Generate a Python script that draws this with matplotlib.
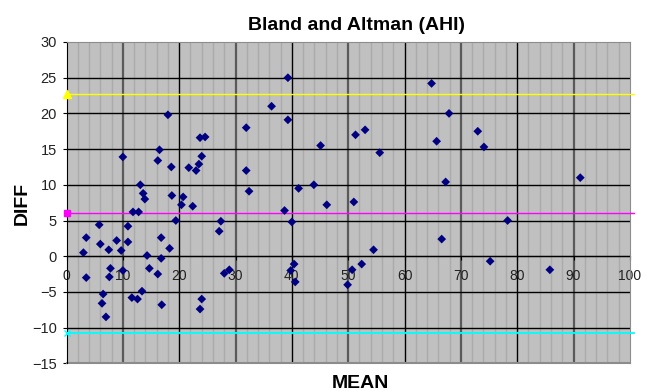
# Bland and Altman plot (AHI)

# ============================================
# region 1. Libraries
import matplotlib
matplotlib.use('Agg')
import matplotlib.pyplot as plt
# endregion


# ============================================
# region 2. Data
mean_vals = [3.0, 3.5, 3.5, 5.8, 6.0, 6.5, 6.3, 7.0, 7.5, 7.8,
             7.6, 8.9, 9.7, 10.0, 10.9, 10.9, 11.6, 12.6, 11.8, 12.8,
             13.4, 13.1, 13.6, 13.9, 14.3, 14.7, 16.2, 16.8, 16.8, 16.9,
             18.3, 18.7, 19.4, 20.4, 20.7, 22.4, 23.7, 24.0, 27.1, 27.4,
             28.0, 28.9, 32.4, 38.7, 40.0, 39.8, 40.4, 40.6, 46.2, 10.0,
             18.0, 16.5, 16.2, 18.6, 21.7, 23.0, 23.5, 24.0, 23.7, 24.6,
             31.9, 31.9, 36.4, 39.3, 39.3, 45.1, 41.2, 43.9, 64.8, 67.9,
             51.3, 53.0, 55.6, 65.7, 73.0, 74.1, 67.3, 91.2, 51.0, 78.3,
             66.6, 54.5, 52.4, 50.7, 49.9, 75.2, 85.8]
diff_vals = [0.5, 2.6, -3.0, 4.4, 1.7, -5.3, -6.6, -8.5, 0.9, -1.7,
             -2.9, 2.2, 0.8, -2.0, 4.2, 2.0, -5.8, -6.0, 6.2, 6.2,
             -4.9, 10.0, 8.8, 8.0, 0.1, -1.7, -2.5, 2.6, -0.3, -6.8,
             1.1, 8.5, 5.0, 7.2, 8.3, 7.0, -7.4, -6.0, 3.5, 4.9,
             -2.4, -1.9, 9.1, 6.4, 4.8, -2.0, -1.1, -3.6, 7.2, 13.9,
             19.8, 14.9, 13.4, 12.5, 12.4, 12.0, 12.9, 14.0, 16.6, 16.7,
             18.0, 12.0, 21.0, 25.0, 19.1, 15.5, 9.5, 10.0, 24.2, 20.0,
             17.0, 17.7, 14.5, 16.1, 17.5, 15.3, 10.4, 11.0, 7.6, 5.0,
             2.4, 0.9, -1.1, -1.9, -4.0, -0.7, -1.9]

upper_limit = 22.7   # mean + 1.96 SD
mean_diff = 6.0
lower_limit = -10.7  # mean - 1.96 SD

x_ticks = list(range(0, 101, 10))
y_ticks = list(range(-15, 31, 5))
# endregion


# ============================================
# region 3. Plot
plt.rcParams['font.family'] = ['Liberation Sans', 'DejaVu Sans']

fig = plt.figure(figsize=(6.49, 3.91), dpi=100)
ax = fig.add_axes([0.1025, 0.0708, 0.868, 0.8218])
ax.set_facecolor('#c0c0c0')

ax.set_xlim(0, 100)
ax.set_ylim(-15, 30)

# grid: minor verticals every 2, majors every 10, horizontals every 5
for xv in range(2, 100, 2):
    if xv % 10 != 0:
        ax.axvline(xv, color='#ababab', linewidth=1.0, zorder=1)
for xv in range(10, 100, 10):
    if xv % 20 == 0:
        ax.axvline(xv, color='black', linewidth=1.0, zorder=1.5)
    else:
        ax.axvline(xv, color='#5a5a5a', linewidth=1.6, zorder=1.5)
for yv in y_ticks[1:-1]:
    ax.axhline(yv, color='black', linewidth=1.0, zorder=1.6)

# limits of agreement
ax.plot([0, 100.7], [upper_limit, upper_limit], color='#ffff00', linewidth=1.0,
        marker='^', markevery=[0], markersize=6, clip_on=False, zorder=3)
ax.plot([0, 100.7], [mean_diff, mean_diff], color='#ff00ff', linewidth=1.0,
        marker='s', markevery=[0], markersize=5, clip_on=False, zorder=3)
ax.plot([0, 100.7], [lower_limit, lower_limit], color='#00ffff', linewidth=1.3,
        marker='x', markevery=[0], markersize=5, clip_on=False, zorder=3)

ax.scatter(mean_vals, diff_vals, marker='D', s=20, color='#000080',
           edgecolors='none', zorder=4)

# axes look (x axis crosses at 0)
ax.spines['bottom'].set_position(('data', 0))
ax.spines['bottom'].set_color('black')
ax.spines['bottom'].set_zorder(2)
ax.spines['left'].set_color('black')
ax.spines['top'].set_color('#8c8c8c')
ax.spines['right'].set_color('#8c8c8c')
ax.axhline(-15, color='#8c8c8c', linewidth=1.5, clip_on=False, zorder=2)

ax.set_xticks(x_ticks)
ax.set_yticks(y_ticks)
ax.tick_params(axis='x', direction='out', length=3, pad=6.5, labelsize=10,
               colors='black', labelcolor='#222222')
ax.tick_params(axis='y', direction='out', length=3, pad=4, labelsize=10.5,
               colors='black', labelcolor='#222222')

fig.text(0.549, 0.923, 'Bland and Altman (AHI)', ha='center', va='baseline',
         fontsize=14, fontweight='bold')
fig.text(0.555, 0.008, 'MEAN', ha='center', va='baseline',
         fontsize=14, fontweight='bold')
fig.text(0.034, 0.48, 'DIFF', ha='center', va='center', rotation=90,
         fontsize=14, fontweight='bold')

fig.savefig('out.png', dpi=100)
# endregion
